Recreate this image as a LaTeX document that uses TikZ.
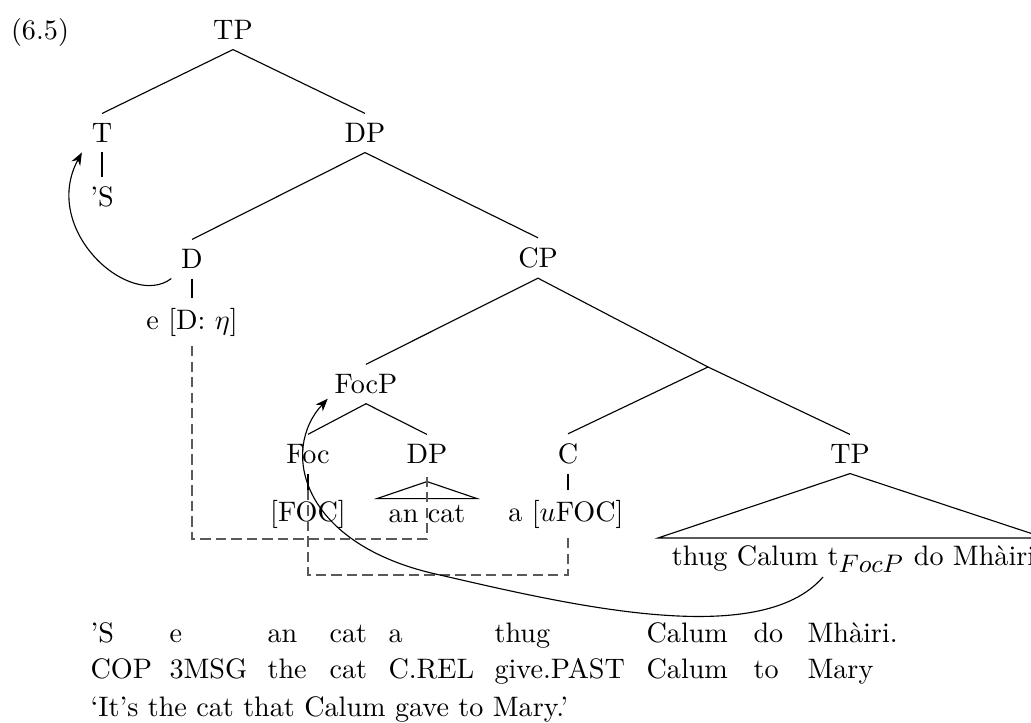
\documentclass[tikz,border=0pt]{standalone}
\usepackage{tikz}
\usetikzlibrary{arrows.meta,positioning,calc}

\tikzset{
  traceline/.style={dash pattern=on 3.6pt off 1.9pt, black!65},
  movearrow/.style={-{Stealth[length=4.5pt,width=3.5pt]}},
  glossword/.style={anchor=base west, inner sep=0pt},
}

\begin{document}
\begin{tikzpicture}[x=0.355pt,y=-0.355pt]
    \useasboundingbox (0,0) rectangle (1031,723);
    % Example number
    \node (exnum) at (40,32) {(6.5)};
    % Upper tree
    \node (tp) at (233,30) {TP};
    \node (t) at (102,133) {T};
    \node (s) at (102,197) {'S};
    \node (dp) at (365,133) {DP};
    \node (d) at (192,259) {D};
    \node (dfeat) at (192,322) {e [D: $\eta$]};
    \node (cp) at (538,258) {CP};
    \coordinate (cbar) at (708,367);
    % Lower tree
    \node (focp) at (366,384) {FocP};
    \node (foc) at (308,454) {Foc};
    \node (dpb) at (427,454) {DP};
    \node (c) at (568,454) {C};
    \node (tpb) at (850,454) {TP};
    \node (focf) at (308,514) {[FOC]};
    \node (ancat) at (427,514) {an cat};
    \node (cfeat) at (566,514) {a [$u$FOC]};
    \node[anchor=base west] (tptext) at (662,565)
      {thug Calum t$_{\mbox{\small$FocP$}}$ do Mh\`airi};
    % Branches
    \draw (tp.south) -- (t.north);
    \draw (tp.south) -- (dp.north);
    \draw (t.south) -- (s.north);
    \draw (dp.south) -- (d.north);
    \draw (dp.south) -- (cp.north);
    \draw (d.south) -- (dfeat.north);
    \draw (cp.south) -- (focp.north);
    \draw (cp.south) -- (cbar);
    \draw (cbar) -- (c.north);
    \draw (cbar) -- (tpb.north);
    \draw (focp.south) -- (foc.north);
    \draw (focp.south) -- (dpb.north);
    \draw (foc.south) -- (focf.north);
    \draw (c.south) -- (c.south |- cfeat.north);
    % Roofs
    \draw (dpb.south) ++(0,8) coordinate (dpapex) -- ++(-50,17) -- ++(100,0) -- cycle;
    \coordinate (tpleft) at (658,538);
    \coordinate (tpright) at (1045,538);
    \draw (tpb.south) -- (tpleft) -- (tpright) -- cycle;
    % Agreement paths
    \coordinate (lowa) at (192,539);
    \coordinate (lowb) at (308,575);
    \draw[traceline] (dfeat.south) -- (lowa) -| (dpb.south);
    \draw[traceline] (focf.north) -- (lowb) -| (c.south |- cfeat.south);
    % Movement
    \draw[movearrow] (d.south west) .. controls (130,310) and (40,230) .. (t.south west);
    \coordinate (trace) at (823,577);
    \draw[movearrow] (trace) .. controls (760,650) and (570,605) .. (440,575)
      .. controls (300,545) and (280,450) .. ($(focp.south west)+(3,-5)$);
    % Gloss
    \foreach \gx/\src/\gls [count=\i] in {90/'S/COP, 169/e/3MSG, 267/an/the,
        329/cat/cat, 388/a/C.REL, 494/thug/give.PAST, 646/Calum/Calum,
        753/do/to, 807/Mh\`airi./Mary} {
      \node[glossword] (src\i) at (\gx,642) {\src};
      \node[glossword] (gls\i) at (\gx,678) {\gls};
    }
    \node[glossword] (transl) at (90,716) {`It's the cat that Calum gave to Mary.'};
\end{tikzpicture}
\end{document}
